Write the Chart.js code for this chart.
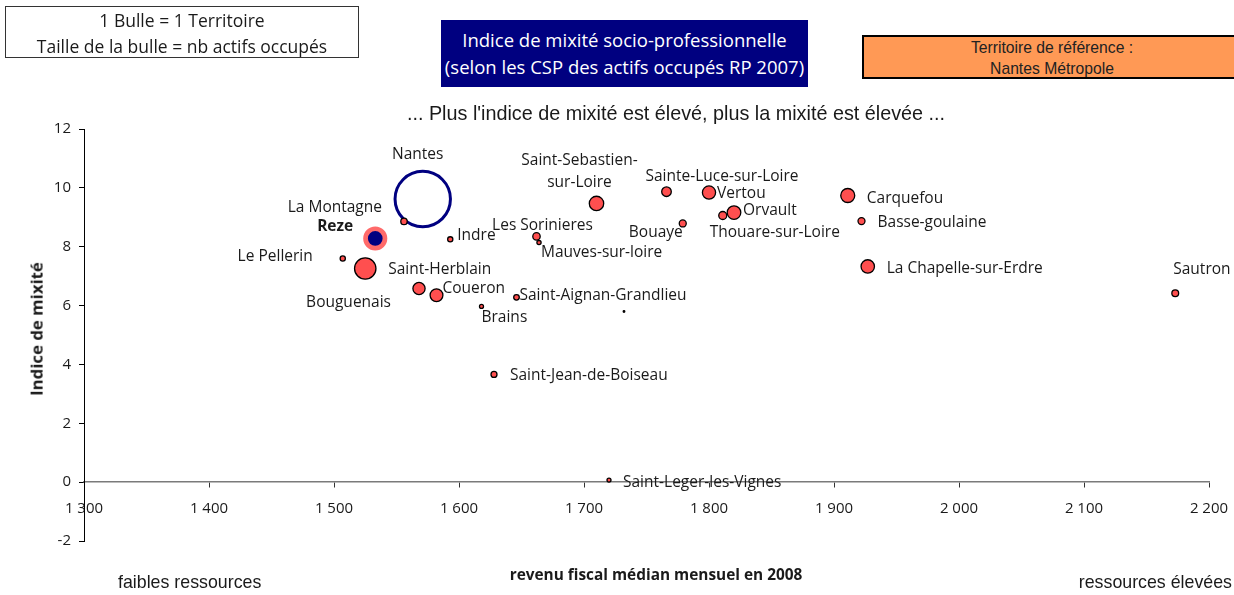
<!DOCTYPE html>
<html lang="fr">
<head>
<meta charset="utf-8">
<title>Indice de mixité socio-professionnelle</title>
<script src="https://cdn.jsdelivr.net/npm/chart.js@4.4.1/dist/chart.umd.min.js"></script>
<style>
body{margin:0;background:#fff;}
#wrap{position:relative;width:1234px;height:595px;overflow:hidden;font-family:"Open Sans",sans-serif;color:#1a1a1a;}
#wrap canvas{position:absolute;left:0;top:0;}
.txt{position:absolute;white-space:nowrap;line-height:1;}
#legende{position:absolute;left:5px;top:6px;width:354px;height:52px;box-sizing:border-box;border:1px solid #333;
  text-align:center;font-size:17.5px;line-height:26px;}
#titre{position:absolute;left:441px;top:20px;width:367px;height:67px;box-sizing:border-box;background:#000080;color:#fff;
  text-align:center;font-size:18.5px;line-height:27px;padding-top:6px;}
#reference{position:absolute;left:862px;top:35px;width:380px;height:44px;box-sizing:border-box;background:#ff9955;
  border:2px solid #000;text-align:center;font-family:"Liberation Sans",Arial,sans-serif;font-size:15.7px;line-height:21px;color:#222;}
</style>
</head>
<body>
<div id="wrap">
  <canvas id="c" width="1234" height="595"></canvas>
  <div id="legende">1 Bulle = 1 Territoire<br>Taille de la bulle = nb actifs occupés</div>
  <div id="titre">Indice de mixité socio-professionnelle<br>(selon les CSP des actifs occupés RP 2007)</div>
  <div id="reference">Territoire de référence :<br>Nantes Métropole</div>
  <div class="txt" id="soustitre" style="left:676px;top:114px;transform:translate(-50%,-50%);font-family:'Liberation Sans',Arial,sans-serif;font-size:19.8px;">... Plus l'indice de mixité est élevé, plus la mixité est élevée ...</div>
  <div class="txt" style="left:37px;top:329px;transform:translate(-50%,-50%) rotate(-90deg);font-weight:bold;font-size:16.8px;">Indice de mixité</div>
  <div class="txt" style="left:656px;top:575px;transform:translate(-50%,-50%);font-weight:bold;font-size:15.4px;">revenu fiscal médian mensuel en 2008</div>
  <div class="txt" style="left:118px;top:583px;transform:translateY(-50%);font-family:'Liberation Sans',Arial,sans-serif;font-size:17.8px;">faibles ressources</div>
  <div class="txt" style="right:2px;top:583px;transform:translateY(-50%);font-family:'Liberation Sans',Arial,sans-serif;font-size:17.8px;">ressources élevées</div>
</div>
<script>
// territoires et valeurs
var communes = ['Nantes','Reze','La Montagne','Le Pellerin','Saint-Herblain','Bouguenais','Coueron','Indre','Brains',
  'Saint-Aignan-Grandlieu','Les Sorinieres','Mauves-sur-loire','Saint-Sebastien-sur-Loire','Sainte-Luce-sur-Loire',
  'Vertou','Orvault','Thouare-sur-Loire','Bouaye','Carquefou','Basse-goulaine','La Chapelle-sur-Erdre','Sautron',
  'Saint-Jean-de-Boiseau','Saint-Leger-les-Vignes',''];
var revenu = [1571,1533,1556,1507,1525,1568,1582,1593,1618,1646,1662,1664,1710,1766,1800,1820,1811,1779,1911,1922,1927,2173,1628,1720,1732];
var indice = [9.62,8.28,8.86,7.60,7.26,6.58,6.35,8.25,5.97,6.28,8.35,8.14,9.47,9.87,9.84,9.16,9.06,8.79,9.74,8.87,7.33,6.42,3.66,0.07,5.8];
var taille = [27.7,9.7,3.2,2.6,10.7,6.1,6.4,2.6,2.0,2.8,3.7,2.1,7.2,4.8,6.6,6.8,4.0,3.5,7.0,3.5,6.7,3.4,3.0,2.0,0.8];
var xTicks = [1300,1400,1500,1600,1700,1800,1900,2000,2100,2200];
var yTicks = [-2,0,2,4,6,8,10,12];

// emplacement des etiquettes : [dx, dy, alignement, gras, coupure]
var placement = {
  'Nantes':[-5,-44,'center'],
  'Reze':[-22,-12,'right',true],
  'La Montagne':[-22,-14,'right'],
  'Le Pellerin':[-30,-2,'right'],
  'Saint-Herblain':[23,1,'left'],
  'Bouguenais':[-28,14,'right'],
  'Coueron':[6,-7,'left'],
  'Indre':[7,-4,'left'],
  'Brains':[0,11,'left'],
  'Saint-Aignan-Grandlieu':[3,-2,'left'],
  'Les Sorinieres':[6,-11,'center'],
  'Mauves-sur-loire':[2,10,'left'],
  'Saint-Sebastien-sur-Loire':[-17,-43,'center',false,16],
  'Sainte-Luce-sur-Loire':[-21,-15,'left'],
  'Vertou':[8,1,'left'],
  'Orvault':[9,-2,'left'],
  'Thouare-sur-Loire':[-13,17,'left'],
  'Bouaye':[0,9,'right'],
  'Carquefou':[19,3,'left'],
  'Basse-goulaine':[16,1,'left'],
  'La Chapelle-sur-Erdre':[19,2,'left'],
  'Sautron':[-2,-24,'left'],
  'Saint-Jean-de-Boiseau':[16,1,'left'],
  'Saint-Leger-les-Vignes':[14,2,'left']
};

var points = communes.map(function(n,i){ return {x: revenu[i], y: indice[i], r: taille[i]}; });
var fonds = communes.map(function(n){ return n=='Nantes' ? 'rgba(0,0,0,0)' : (n=='Reze' ? '#000080' : '#ff4f4f'); });
var bords = communes.map(function(n){ return n=='Nantes' ? '#000080' : (n=='Reze' ? '#ff6a6a' : '#000'); });
var epaisseurs = communes.map(function(n){ return n=='Nantes' ? 3 : (n=='Reze' ? 4.7 : 1.3); });

var etiquettes = {
  id:'etiquettes',
  afterDatasetsDraw: function(chart){
    var ctx = chart.ctx, meta = chart.getDatasetMeta(0);
    ctx.save();
    ctx.fillStyle = '#1a1a1a';
    ctx.textBaseline = 'middle';
    meta.data.forEach(function(pt,i){
      var p = placement[communes[i]];
      if(!p) return;
      ctx.font = (p[3] ? 'bold ' : '') + '15.5px "Open Sans"';
      ctx.textAlign = p[2];
      var lignes = p[4] ? [communes[i].slice(0,p[4]), communes[i].slice(p[4])] : [communes[i]];
      lignes.forEach(function(l,k){ ctx.fillText(l, pt.x+p[0], pt.y+p[1]+k*22); });
    });
    ctx.restore();
  }
};

function milliers(v){ return v>=1000 ? Math.floor(v/1000)+' '+String(v%1000).padStart(3,'0') : String(v); }

Chart.defaults.font.family = '"Open Sans"';
Chart.defaults.font.size = 15;
Chart.defaults.color = '#1a1a1a';

document.fonts.load('15px "Open Sans"').then(function(){
  new Chart(document.getElementById('c'), {
    type:'bubble',
    data:{ datasets:[{ data: points, backgroundColor: fonds, borderColor: bords, borderWidth: epaisseurs, clip: false }]},
    options:{
      responsive:false, animation:false,
      layout:{ autoPadding:false, padding:{ left:0, top:129, right:25, bottom:54 } },
      plugins:{ legend:{display:false}, tooltip:{enabled:false} },
      scales:{
        x:{ type:'linear', position:{y:0}, min:xTicks[0], max:xTicks[xTicks.length-1],
            afterBuildTicks:function(s){ s.ticks = xTicks.map(function(v){return {value:v};}); },
            afterFit:function(s){ s.paddingLeft = 0; s.paddingRight = 0; },
            grid:{ drawOnChartArea:false, drawTicks:true, tickLength:5, tickColor:'#333' },
            border:{ color:'#7a7a7a', width:1.5 },
            ticks:{ padding:13, maxRotation:0, autoSkip:false, callback:function(v){ return milliers(v); } } },
        y:{ type:'linear', min:yTicks[0], max:yTicks[yTicks.length-1],
            afterBuildTicks:function(s){ s.ticks = yTicks.map(function(v){return {value:v};}); },
            afterFit:function(s){ s.width = 84; },
            grid:{ drawOnChartArea:false, drawTicks:true, tickLength:5, tickColor:'#000' },
            border:{ color:'#000', width:1 },
            ticks:{ padding:8 } }
      }
    },
    plugins:[etiquettes]
  });
});
</script>
</body>
</html>
